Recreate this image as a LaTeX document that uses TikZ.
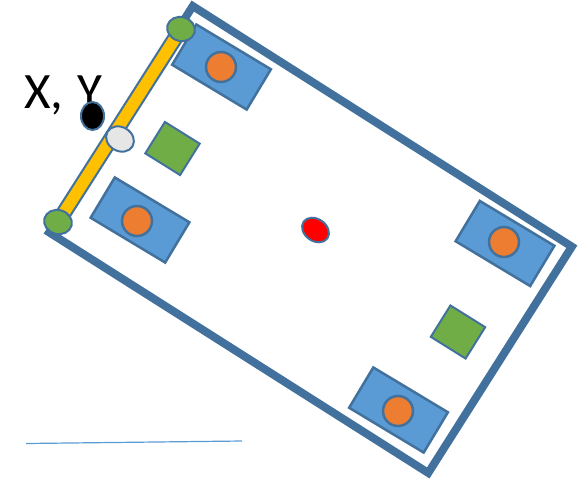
\documentclass[tikz,border=0pt]{standalone}
\usepackage{fontspec}
\setmainfont{Carlito}
\usetikzlibrary{shapes.geometric}

\begin{document}
\begin{tikzpicture}[x=1pt,y=-1pt,
  every node/.style={inner sep=0pt},
  chasis/.style={rectangle, draw=linea, line width=8pt, minimum width=449pt, minimum height=268pt, rotate=-32.4},
  eje/.style={rectangle, draw=linea, fill=eje amarillo, line width=2pt, minimum width=229pt, minimum height=14pt, rotate=57.5},
  bloque/.style={rectangle, draw=linea, fill=azul, line width=2.5pt, minimum width=87pt, minimum height=47pt, rotate=-31},
  rueda/.style={circle, draw=linea, fill=naranja, line width=2.5pt, minimum size=30pt},
  placa/.style={rectangle, draw=linea, fill=verde, line width=2pt, minimum width=41pt, minimum height=37pt, rotate=-32},
  punta/.style={ellipse, draw=linea, fill=verde, line width=2pt, minimum width=28pt, minimum height=24pt, rotate=-15}]
\definecolor{linea}{HTML}{41719C}
\definecolor{azul}{HTML}{5B9BD5}
\definecolor{naranja}{HTML}{ED7D31}
\definecolor{verde}{HTML}{70AD47}
\definecolor{eje amarillo}{HTML}{FFC000}
\definecolor{gris}{HTML}{E7E6E6}
\useasboundingbox (0,0) rectangle (588,480);
\node[chasis] (marco) at (310.5,239.5) {};
\node[eje] (barra) at (119.5,125.5) {};
\node[bloque] (bloqueA) at (221.5,67) {};
\node[bloque] (bloqueB) at (140,220) {};
\node[bloque] (bloqueC) at (505,243.5) {};
\node[bloque] (bloqueD) at (398.5,410) {};
\node[rueda] (ruedaA) at (221,67) {};
\node[rueda] (ruedaB) at (137,221) {};
\node[rueda] (ruedaC) at (504,242) {};
\node[rueda] (ruedaD) at (398,411) {};
\node[placa] (placaA) at (172.5,148.5) {};
\node[placa] (placaB) at (458,332) {};
\node[punta] (puntaA) at (181,29) {};
\node[punta] (puntaB) at (58,222) {};
\node[ellipse, draw=linea, fill=gris, line width=2pt, minimum width=29pt, minimum height=24pt, rotate=-30] (pivote) at (120,139) {};
\node[anchor=base west, font=\fontsize{51}{60}\selectfont] (posicion) at (24,108) {X,\hspace{3pt} Y};
\node[ellipse, draw=linea, fill=black, line width=2pt, minimum width=23pt, minimum height=28pt] (punto) at (92.5,116) {};
\node[ellipse, draw=linea, fill=red, line width=2pt, minimum width=29pt, minimum height=22pt, rotate=-35] (centro) at (315.5,230) {};
\coordinate (escalaA) at (26,443.5);
\coordinate (escalaB) at (242,441);
\draw[azul, line width=1.2pt] (escalaA) -- (escalaB);
\end{tikzpicture}
\end{document}
